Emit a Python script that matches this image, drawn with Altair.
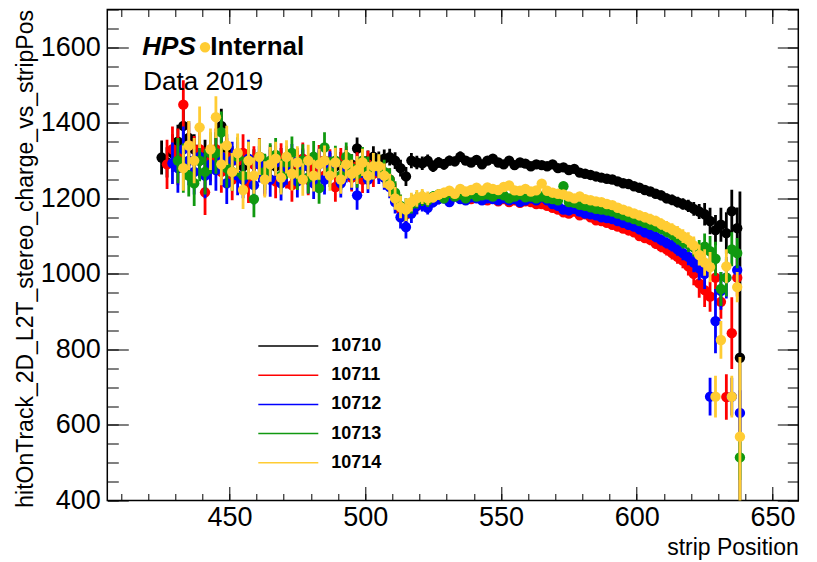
import altair as alt
import pandas as pd

F = "Liberation Sans"
N = None

runs = ["10710", "10711", "10712", "10713", "10714"]
colors = ["#000000", "#ff0000", "#0000ff", "#109910", "#ffcc33"]

# strip positions (every second strip) plus the last strip
strips = list(range(425, 638, 2)) + [638]

black = [
    1308, 1295, 1320, 1350, 1392, 1360, 1330, 1300, 1315, 1290,
    1320, 1392, 1330, 1300, 1310, 1285, 1300, 1290, 1305, 1280,
    1295, 1285, 1300, 1290, 1280, 1295, 1300, 1285, 1290, 1295,
    1300, 1290, 1285, 1295, 1300, 1290, 1332, 1295, 1300, 1310,
    1300, 1305, 1309, 1300, 1280, 1258, 1300, 1295, 1293, 1300,
    1285, 1295, 1290, 1300, 1298, 1310, 1300, 1295, 1302, 1290,
    1300, 1305, 1295, 1290, 1300, 1288, 1295, 1292, 1285, 1290,
    1288, 1285, 1290, 1280, 1282, 1275, 1278, 1268, 1265, 1262,
    1258, 1255, 1252, 1250, 1245, 1240, 1238, 1232, 1228, 1222,
    1218, 1212, 1208, 1200, 1196, 1190, 1185, 1180, 1172, 1165,
    1158, 1140, 1116, 1130, 1108, 1166, 1121, 778]
black_err = [
    45, 40, 50, 45, 50, 45, 40, 45, 40, 45,
    40, 45, 40, 38, 40, 36, 36, 40, 35, 35,
    34, 35, 33, 32, 33, 31, 32, 30, 30, 32,
    30, 30, 29, 28, 29, 27, 29, 27, 27, 28,
    24, 24, 22, 22, 22, 25, 20, 18, 18, 16,
    15, 14, 14, 13, 13, 14, 12, 12, 12, 12,
    12, 11, 11, 11, 11, 10, 10, 10, 10, 10,
    10, 10, 10, 10, 10, 10, 10, 10, 10, 10,
    10, 10, 10, 10, 11, 11, 11, 11, 12, 12,
    12, 12, 13, 13, 14, 14, 15, 16, 18, 20,
    30, 35, 40, 45, 55, 57, 55, 440]

red = [
    N, 1290, 1330, 1310, 1448, 1340, 1300, 1330, 1216, 1300,
    1330, 1270, 1310, 1250, 1300, 1320, 1240, 1290, 1310, 1255,
    1295, 1245, 1300, 1270, 1235, 1290, 1305, 1250, 1280, 1300,
    1260, 1290, 1230, 1295, 1300, 1255, 1285, 1250, 1290, 1265,
    1280, 1265, 1250, 1210, 1170, 1158, 1175, 1180, 1190, 1185,
    1195, 1200, 1205, 1195, 1210, 1200, 1205, 1198, 1208, 1200,
    1195, 1200, 1192, 1198, 1190, 1195, 1188, 1192, 1190, 1185,
    1185, 1180, 1175, 1170, 1163, 1160, 1165, 1155, 1158, 1150,
    1142, 1140, 1135, 1130, 1125, 1120, 1115, 1110, 1100, 1095,
    1090, 1080, 1072, 1065, 1055, 1045, 1035, 1020, 1000, 975,
    957, 940, 990, 926, 674, 843, 990, N]
red_err = [
    N, 65, 60, 75, 65, 60, 65, 55, 60, 55,
    55, 55, 50, 55, 50, 50, 52, 48, 50, 48,
    46, 45, 46, 44, 44, 43, 43, 42, 42, 41,
    40, 40, 39, 38, 38, 37, 37, 36, 36, 35,
    32, 32, 30, 30, 30, 30, 25, 22, 20, 18,
    14, 14, 13, 13, 12, 12, 12, 12, 11, 11,
    11, 11, 11, 10, 10, 10, 10, 10, 10, 10,
    10, 10, 10, 10, 10, 10, 10, 10, 10, 10,
    10, 10, 11, 11, 11, 12, 12, 12, 13, 13,
    14, 14, 15, 16, 17, 18, 20, 24, 30, 38,
    45, 40, 50, 45, 60, 95, 50, N]

blue = [
    N, N, 1293, 1280, 1330, 1300, 1270, 1310, 1260, 1290,
    1275, 1310, 1240, 1300, 1260, 1250, 1305, 1235, 1290, 1260,
    1250, 1295, 1240, 1280, 1300, 1245, 1285, 1255, 1240, 1290,
    1250, 1285, 1295, 1240, 1280, 1260, 1208, 1290, 1250, 1285,
    1270, 1255, 1230, 1190, 1150, 1124, 1160, 1180, 1185, 1175,
    1190, 1198, 1200, 1190, 1205, 1198, 1195, 1203, 1200, 1195,
    1200, 1198, 1195, 1200, 1195, 1198, 1190, 1195, 1200, 1195,
    1203, 1195, 1185, 1180, 1170, 1168, 1172, 1165, 1160, 1158,
    1155, 1150, 1148, 1145, 1140, 1135, 1130, 1125, 1118, 1110,
    1105, 1098, 1090, 1082, 1075, 1065, 1055, 1045, 1030, 1015,
    1000, 675, 875, 955, 990, 675, 1010, 632]
blue_err = [
    N, N, 55, 65, 60, 65, 60, 55, 60, 55,
    55, 52, 55, 50, 52, 50, 50, 52, 48, 48,
    46, 45, 46, 44, 44, 43, 43, 42, 42, 41,
    40, 40, 39, 38, 38, 37, 38, 36, 36, 35,
    32, 32, 30, 30, 30, 30, 25, 22, 20, 18,
    14, 14, 13, 13, 12, 12, 12, 12, 11, 11,
    11, 11, 10, 10, 10, 10, 10, 10, 10, 10,
    10, 10, 10, 10, 10, 10, 10, 10, 10, 10,
    10, 10, 11, 11, 11, 12, 12, 12, 13, 13,
    14, 14, 15, 15, 16, 17, 19, 22, 26, 32,
    40, 50, 85, 50, 55, 50, 45, 60]

green = [
    N, N, N, 1300, 1280, 1260, 1240, 1300, 1270, 1320,
    1320, 1375, 1280, 1270, 1310, 1260, 1300, 1198, 1310, 1270,
    1300, 1315, 1260, 1295, 1320, 1265, 1300, 1255, 1310, 1227,
    1335, 1270, 1300, 1260, 1310, 1280, 1265, 1300, 1275, 1285,
    1285, 1270, 1250, 1215, 1180, 1170, 1185, 1195, 1200, 1195,
    1205, 1210, 1200, 1215, 1205, 1210, 1200, 1212, 1205, 1208,
    1210, 1205, 1212, 1208, 1200, 1205, 1210, 1203, 1205, 1200,
    1205, 1200, 1198, 1195, 1232, 1190, 1188, 1183, 1180, 1176,
    1172, 1170, 1168, 1165, 1160, 1155, 1150, 1145, 1140, 1135,
    1130, 1125, 1120, 1112, 1105, 1095, 1085, 1078, 1070, 1062,
    1072, 1060, 1040, 960, 990, 1065, 1055, 514]
green_err = [
    N, N, N, 60, 65, 55, 60, 55, 60, 55,
    55, 55, 52, 50, 52, 50, 50, 48, 48, 48,
    46, 45, 45, 44, 44, 43, 43, 42, 42, 41,
    40, 40, 39, 38, 38, 37, 37, 36, 36, 35,
    32, 32, 30, 30, 30, 30, 25, 22, 20, 18,
    14, 14, 13, 13, 12, 12, 12, 12, 11, 11,
    11, 11, 10, 10, 10, 10, 10, 10, 10, 10,
    10, 10, 10, 10, 12, 10, 10, 10, 10, 10,
    10, 10, 11, 11, 11, 12, 12, 12, 13, 13,
    14, 14, 15, 15, 16, 17, 18, 20, 24, 28,
    35, 40, 45, 45, 50, 45, 40, 60]

yellow = [
    N, N, N, N, 1280, 1340, 1300, 1388, 1600, 1330,
    1415, 1290, 1340, 1270, 1320, 1222, 1300, 1260, 1310, 1250,
    1290, 1305, 1255, 1310, 1265, 1295, 1250, 1300, 1260, 1290,
    1300, 1260, 1295, 1250, 1290, 1265, 1275, 1295, 1260, 1285,
    1285, 1260, 1235, 1200, 1177, 1170, 1190, 1200, 1205, 1200,
    1203, 1210, 1215, 1220, 1212, 1225, 1218, 1222, 1228, 1220,
    1229, 1225, 1222, 1230, 1234, 1221, 1220, 1225, 1218, 1221,
    1239, 1220, 1215, 1212, 1210, 1205, 1200, 1205, 1198, 1195,
    1192, 1190, 1185, 1182, 1175, 1170, 1165, 1160, 1155, 1150,
    1145, 1140, 1132, 1125, 1118, 1110, 1100, 1090, 1075, 1050,
    1030, 1018, 675, 825, 1020, 675, 965, 569]
yellow_err = [
    N, N, N, N, 60, 65, 60, 55, 5, 55,
    55, 55, 52, 50, 52, 50, 50, 48, 48, 48,
    46, 45, 45, 44, 44, 43, 43, 42, 42, 41,
    40, 40, 39, 38, 38, 37, 37, 36, 36, 35,
    32, 32, 30, 30, 30, 30, 25, 22, 20, 18,
    14, 14, 13, 13, 12, 12, 12, 12, 11, 11,
    11, 11, 10, 10, 10, 10, 10, 10, 10, 10,
    10, 10, 10, 10, 10, 10, 10, 10, 10, 10,
    10, 10, 11, 11, 11, 12, 12, 12, 13, 13,
    14, 14, 15, 15, 16, 17, 18, 20, 24, 28,
    35, 40, 55, 50, 45, 55, 40, 211]

series_vals = [black, red, blue, green, yellow]
series_errs = [black_err, red_err, blue_err, green_err, yellow_err]
for v, e in zip(series_vals, series_errs):
    assert len(v) == len(strips), len(v)
    assert len(e) == len(strips), len(e)

rows = []
for run, vals, errs in zip(runs, series_vals, series_errs):
    for s, v, e in zip(strips, vals, errs):
        if v is None:
            continue
        e = e or 0
        rows.append({"run": run, "strip": s, "value": v, "lo": v - e, "hi": v + e})
df = pd.DataFrame(rows)

W, H = 691, 491
xs = alt.Scale(domain=[405, 659.5], nice=False, zero=False)
ys = alt.Scale(domain=[400, 1700], nice=False, zero=False)
cscale = alt.Scale(domain=runs, range=colors)

legend = alt.Legend(
    title=None, orient="none", legendX=150, legendY=327, symbolType="stroke",
    symbolSize=3600, symbolStrokeWidth=1.5, labelFontSize=18, labelFontWeight="bold",
    labelFont=F, labelColor="black", labelOffset=12, rowPadding=10.2, padding=0,
    clipHeight=19,
)

layers = []
for run in runs:
    sub = df[df["run"] == run]
    rule = alt.Chart(sub).mark_rule(strokeWidth=2.8, clip=True).encode(
        x=alt.X("strip:Q", scale=xs, axis=None),
        y=alt.Y("lo:Q", scale=ys, axis=None),
        y2="hi:Q",
        color=alt.Color("run:N", scale=cscale, legend=legend),
    )
    pts = alt.Chart(sub).mark_circle(size=108, opacity=1, clip=True).encode(
        x=alt.X("strip:Q", scale=xs, axis=None),
        y=alt.Y("value:Q", scale=ys, axis=None),
        color=alt.Color("run:N", scale=cscale, legend=None),
    )
    layers += [rule, pts]

xmaj = [450, 500, 550, 600, 650]
xmin = list(range(410, 660, 10))
ymaj = [400, 600, 800, 1000, 1200, 1400, 1600]
ymin = list(range(400, 1701, 50))


def tick_axis(orient, values, size, offset):
    return alt.Axis(orient=orient, values=values, tickSize=size, offset=offset,
                    labels=False, domain=False, grid=False, title=None,
                    tickColor="black", tickWidth=1)


def axis_layer(xaxis, yaxis):
    return alt.Chart(df).mark_circle(opacity=0, size=1).encode(
        x=alt.X("strip:Q", scale=xs, axis=xaxis),
        y=alt.Y("value:Q", scale=ys, axis=yaxis),
    )


xlab = alt.Axis(orient="bottom", values=xmaj, ticks=False, tickSize=0, domain=False,
                grid=False, labelFontSize=27, labelFont=F, labelColor="black",
                labelPadding=4, labelFlush=False, labelOverlap=False, format="d",
                title="strip Position", titleFontSize=23, titleFont=F,
                titleFontWeight="normal", titleColor="black", titleAnchor="end",
                titleAlign="right", titleX=W, titleY=54, titleBaseline="alphabetic")
ylab = alt.Axis(orient="left", values=ymaj, ticks=False, tickSize=0, domain=False,
                grid=False, labelFontSize=27, labelFont=F, labelColor="black",
                labelPadding=7, labelFlush=False, labelOverlap=False, format="d",
                title="hitOnTrack_2D_L2T_stereo_charge_vs_stripPos", titleFontSize=23,
                titleFont=F, titleFontWeight="normal", titleColor="black",
                titleAnchor="end", titleAlign="right", titleAngle=270, titleX=-75,
                titleY=0, titleBaseline="alphabetic")

axis_layers = [
    axis_layer(xlab, ylab),
    axis_layer(tick_axis("top", xmaj, 14, -H), tick_axis("right", ymaj, 21, -W)),
    axis_layer(tick_axis("top", xmin, 7, -H), tick_axis("right", ymin, 11, -W)),
    axis_layer(tick_axis("bottom", xmaj, 14, -H), tick_axis("left", ymaj, 21, -W)),
    axis_layer(tick_axis("bottom", xmin, 7, -H), tick_axis("left", ymin, 11, -W)),
]

texts = pd.DataFrame({"t": ["HPS", "Internal", "Data 2019"]})
hps = alt.Chart(texts[texts.t == "HPS"]).mark_text(
    align="left", baseline="alphabetic", font=F, fontSize=26, fontWeight="bold",
    fontStyle="italic", color="black").encode(text="t:N", x=alt.value(35), y=alt.value(45.5))
internal = alt.Chart(texts[texts.t == "Internal"]).mark_text(
    align="left", baseline="alphabetic", font=F, fontSize=26, fontWeight="bold",
    color="black").encode(text="t:N", x=alt.value(103), y=alt.value(45.5))
data2019 = alt.Chart(texts[texts.t == "Data 2019"]).mark_text(
    align="left", baseline="alphabetic", font=F, fontSize=26, color="black").encode(
    text="t:N", x=alt.value(36), y=alt.value(80))

chart = alt.layer(*axis_layers, *layers, hps, internal, data2019).resolve_axis(
    x="independent", y="independent"
).properties(
    width=W, height=H,
    padding={"left": 107.3, "top": 9.5, "right": 18.7, "bottom": 61.5},
    autosize=alt.AutoSizeParams(type="none"),
    background="white",
).configure(font=F).configure_view(stroke="black", strokeWidth=1.5)

chart.save("out.html", embed_options={"renderer": "svg", "actions": False})
